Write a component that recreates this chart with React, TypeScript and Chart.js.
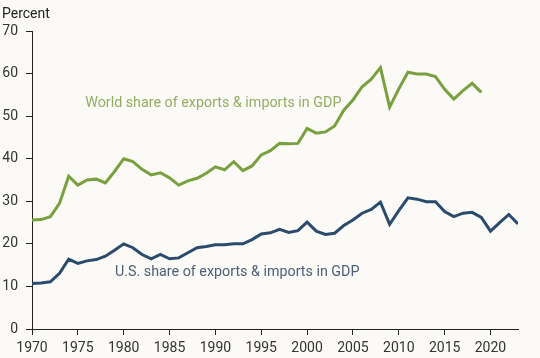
import React, { useEffect, useRef } from "react";
import { Chart, registerables } from "chart.js";

Chart.register(...registerables);

const years = [
  1970, 1971, 1972, 1973, 1974, 1975, 1976, 1977, 1978, 1979,
  1980, 1981, 1982, 1983, 1984, 1985, 1986, 1987, 1988, 1989,
  1990, 1991, 1992, 1993, 1994, 1995, 1996, 1997, 1998, 1999,
  2000, 2001, 2002, 2003, 2004, 2005, 2006, 2007, 2008, 2009,
  2010, 2011, 2012, 2013, 2014, 2015, 2016, 2017, 2018, 2019,
  2020, 2021, 2022, 2023,
];

const worldShare = [
  25.6, 25.7, 26.4, 29.5, 35.9, 33.8, 35.0, 35.2, 34.3, 37.0,
  40.0, 39.3, 37.5, 36.2, 36.7, 35.5, 33.8, 34.8, 35.4, 36.6,
  38.1, 37.4, 39.3, 37.2, 38.3, 40.9, 41.9, 43.6, 43.5, 43.6,
  47.1, 46.0, 46.3, 47.7, 51.4, 53.8, 56.9, 58.7, 61.4, 52.1,
  56.4, 60.3, 59.9, 59.9, 59.3, 56.3, 54.0, 56.0, 57.7, 55.6,
];

const usShare = [
  10.7, 10.8, 11.1, 13.1, 16.4, 15.4, 16.0, 16.3, 17.1, 18.5,
  20.0, 19.1, 17.5, 16.5, 17.5, 16.5, 16.7, 17.9, 19.1, 19.4,
  19.8, 19.8, 20.0, 20.0, 21.0, 22.3, 22.6, 23.4, 22.7, 23.1,
  25.1, 23.0, 22.2, 22.5, 24.3, 25.6, 27.2, 28.1, 29.8, 24.6,
  27.8, 30.8, 30.5, 29.9, 29.9, 27.6, 26.4, 27.2, 27.4, 26.2,
  23.0, 25.0, 26.9, 24.7,
];

const xTicks = [1970, 1975, 1980, 1985, 1990, 1995, 2000, 2005, 2010, 2015, 2020];
const yTicks = [0, 10, 20, 30, 40, 50, 60, 70];

const yAxisTitle = "Percent";
const worldLabel = "World share of exports & imports in GDP";
const usLabel = "U.S. share of exports & imports in GDP";

const GREEN = "#78a03e";
const GREEN_TEXT = "#93ad62";
const BLUE = "#2b4b6d";
const BLUE_TEXT = "#4d6078";
const BG = "#fbfaf7";
const FONT = "Roboto, 'Noto Sans', sans-serif";

export default function App() {
  const ref = useRef<HTMLCanvasElement | null>(null);

  useEffect(() => {
    const canvas = ref.current;
    if (!canvas) return;

    const textPlugin = {
      id: "textPlugin",
      beforeDraw(chart: any) {
        const ctx = chart.ctx;
        ctx.save();
        ctx.fillStyle = BG;
        ctx.fillRect(0, 0, chart.width, chart.height);
        ctx.restore();
      },
      afterDraw(chart: any) {
        const ctx = chart.ctx;
        const xs = chart.scales.x;
        const ys = chart.scales.y;
        ctx.save();
        ctx.textBaseline = "middle";
        ctx.textAlign = "left";
        ctx.font = `14px ${FONT}`;
        ctx.fillStyle = "#222222";
        ctx.fillText(yAxisTitle, 2, 14);
        ctx.font = `14.3px ${FONT}`;
        ctx.fillStyle = GREEN_TEXT;
        ctx.fillText(worldLabel, xs.getPixelForValue(1975.8), ys.getPixelForValue(53.1));
        ctx.fillStyle = BLUE_TEXT;
        ctx.fillText(usLabel, xs.getPixelForValue(1979.05), ys.getPixelForValue(13.4));
        ctx.restore();
      },
    };

    const chart = new Chart(canvas, {
      type: "line",
      data: {
        datasets: [
          {
            label: worldLabel,
            data: worldShare.map((v, i) => ({ x: years[i], y: v })),
            borderColor: GREEN,
            borderWidth: 3,
            pointRadius: 0,
            tension: 0,
            fill: false,
          },
          {
            label: usLabel,
            data: usShare.map((v, i) => ({ x: years[i], y: v })),
            borderColor: BLUE,
            borderWidth: 3,
            pointRadius: 0,
            tension: 0,
            fill: false,
          },
        ],
      },
      options: {
        animation: false,
        responsive: false,
        maintainAspectRatio: false,
        layout: { padding: { top: 31, right: 22, left: 0, bottom: 0 } },
        plugins: {
          legend: { display: false },
          tooltip: { enabled: false },
          title: { display: false },
        },
        scales: {
          x: {
            type: "linear",
            min: 1970,
            max: 2023,
            afterFit(scale: any) {
              scale.height = 29;
            },
            afterBuildTicks(scale: any) {
              scale.ticks = xTicks.map((v) => ({ value: v }));
            },
            ticks: {
              includeBounds: false,
              color: "#333333",
              font: { family: FONT, size: 14 },
              padding: 5,
              maxRotation: 0,
              autoSkip: false,
              callback: (v: any) => String(v),
            },
            grid: {
              display: true,
              drawOnChartArea: false,
              drawTicks: true,
              tickLength: 6,
              color: "#222222",
            },
            border: { display: true, color: "#222222", width: 1 },
          },
          y: {
            type: "linear",
            min: 0,
            max: 70,
            afterFit(scale: any) {
              scale.width = 32;
            },
            afterBuildTicks(scale: any) {
              scale.ticks = yTicks.map((v) => ({ value: v }));
            },
            ticks: {
              color: "#333333",
              font: { family: FONT, size: 14 },
              padding: 8,
              autoSkip: false,
            },
            grid: {
              display: true,
              drawOnChartArea: false,
              drawTicks: true,
              tickLength: 6,
              color: "#222222",
            },
            border: { display: true, color: "#222222", width: 1 },
          },
        },
      },
      plugins: [textPlugin],
    });

    return () => chart.destroy();
  }, []);

  return (
    <div style={{ position: "fixed", left: 0, top: 0, width: 540, height: 358, background: BG }}>
      <canvas ref={ref} width={540} height={358} style={{ width: 540, height: 358, display: "block" }} />
    </div>
  );
}
